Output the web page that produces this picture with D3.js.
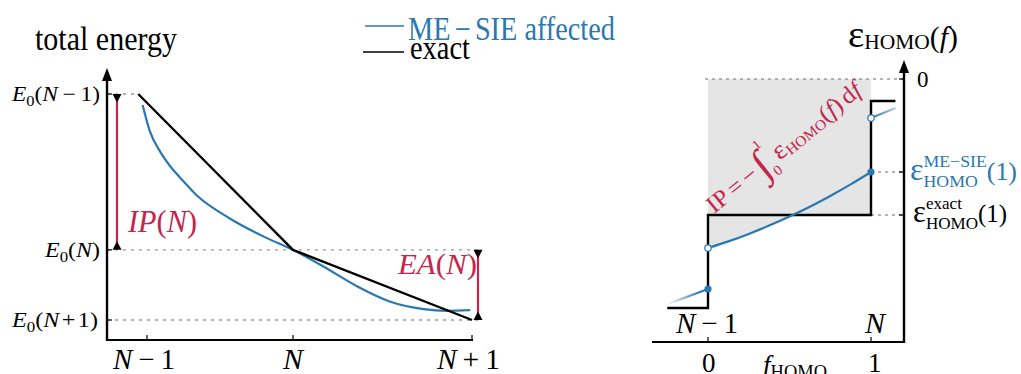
<!DOCTYPE html>
<html>
<head>
<meta charset="utf-8">
<script src="https://cdn.jsdelivr.net/npm/d3@7/dist/d3.min.js"></script>
<style>
  html, body { margin: 0; padding: 0; background: #fff; }
  svg { display: block; font-family: "Liberation Serif", "DejaVu Serif", serif; }
</style>
</head>
<body>
<svg id="fig" width="1021" height="374"></svg>
<script>
// ---------- Left panel: total energy vs. electron number ----------
// electron number axis: N−1 → −1, N → 0, N+1 → 1
const electronTicks = [-1, 0, 1];
const energyLevels = [1, 0, -0.45];          // E0(N−1), E0(N), E0(N+1)
const exactN = [-1.06, 0, 1];
const exactE = [1, 0, -0.45];
const mesieN = [-1.03, -0.98, -0.91, -0.84, -0.77, -0.66, -0.43, -0.2, 0, 0.17, 0.36, 0.54, 0.73, 0.86, 0.99];
const mesieE = [0.93, 0.76, 0.63, 0.535, 0.46, 0.35, 0.2, 0.085, 0, -0.107, -0.235, -0.331, -0.38, -0.391, -0.387];

// ---------- Right panel: HOMO eigenvalue vs. fractional occupation ----------
const fTicks = [0, 1];
const fTickLabels = ["0", "1"];
const exactStepF = [-0.25, 0, 0, 1, 1, 1.15];
const exactStepEps = [-1.684, -1.684, -1, -1, -0.162, -0.162];
const mesieLowF = [-0.25, -0.125, 0];
const mesieLowEps = [-1.654, -1.6, -1.544];
const mesieMidF = [0, 0.125, 0.25, 0.375, 0.5, 0.625, 0.75, 0.875, 1];
const mesieMidEps = [-1.243, -1.194, -1.139, -1.078, -1.011, -0.939, -0.86, -0.775, -0.684];
const mesieHighF = [1, 1.15];
const mesieHighEps = [-0.287, -0.213];
const epsMarked = [0, -0.684, -1];            // 0, ε^ME−SIE(1), ε^exact(1)

const BLUE = "#2a78b0", RED = "#c3264b", GRID = "#9a9a9a";
const svg = d3.select("#fig");

// rich text: a row of runs (italic, sub/superscript, stacked scripts), fitted to a width
function rich(parent, segs, o) {
  const outer = parent.append("g");
  const g = outer.append("g");
  let x = 0;
  const put = (s, px) => {
    const t = g.append("text")
      .attr("x", px)
      .attr("y", (s.dy || 0) * o.size)
      .attr("font-size", o.size * (s.sz || 1))
      .attr("font-style", s.it ? "italic" : "normal")
      .attr("fill", s.color || o.color || "#000")
      .text(s.t);
    return t.node().getComputedTextLength();
  };
  segs.forEach(s => {
    if (s.gap !== undefined) x += s.gap * o.size;
    else if (s.stack) { let w = 0; s.stack.forEach(p => { w = Math.max(w, put(p, x)); }); x += w; }
    else x += put(s, x);
  });
  const sx = o.width ? o.width / x : 1;
  let tf = `translate(${o.x},${o.y})`;
  if (o.rotate) tf += ` rotate(${o.rotate})`;
  tf += ` scale(${sx},1)`;
  outer.attr("transform", tf);
  return outer;
}
const sub = (t, extra) => Object.assign({ t, sz: 0.7, dy: 0.25 }, extra || {});

// ================= LEFT PANEL =================
const xL = d3.scaleLinear().domain([-1, 0, 1]).range([147, 293, 472]);
const yL = d3.scaleLinear().domain([-0.45, 1]).range([320, 94]);
const axL = { x0: 107, y0: 340, xEnd: 473, top: 68 };
const L = svg.append("g");

// dotted reference levels
const levelEnds = [xL(exactN[0]), 480, 480];
L.selectAll("line.lvl").data(energyLevels).join("line")
  .attr("x1", axL.x0).attr("x2", (d, i) => levelEnds[i])
  .attr("y1", d => yL(d)).attr("y2", d => yL(d))
  .attr("stroke", GRID).attr("stroke-width", 1.3).attr("stroke-dasharray", "3,5");

// curves
L.append("path").datum(d3.zip(mesieN, mesieE))
  .attr("d", d3.line().x(d => xL(d[0])).y(d => yL(d[1])).curve(d3.curveMonotoneX))
  .attr("fill", "none").attr("stroke", BLUE).attr("stroke-width", 2.2);
L.append("path").datum(d3.zip(exactN, exactE))
  .attr("d", d3.line().x(d => xL(d[0])).y(d => yL(d[1])))
  .attr("fill", "none").attr("stroke", "#000").attr("stroke-width", 2.4);

// IP and EA bars
function gapBar(x, eTop, eBot) {
  const yt = yL(eTop), yb = yL(eBot);
  L.append("line").attr("x1", x).attr("x2", x).attr("y1", yt + 4).attr("y2", yb - 4)
    .attr("stroke", RED).attr("stroke-width", 2.2);
  L.append("path").attr("d", `M${x - 4.5},${yt}L${x + 4.5},${yt}L${x},${yt + 8.5}Z`).attr("fill", "#000");
  L.append("path").attr("d", `M${x - 4.5},${yb}L${x + 4.5},${yb}L${x},${yb - 8.5}Z`).attr("fill", "#000");
}
gapBar(117, energyLevels[0], energyLevels[1]);
gapBar(478, energyLevels[1], energyLevels[2]);

// axes
L.append("line").attr("x1", axL.x0).attr("x2", axL.xEnd).attr("y1", axL.y0).attr("y2", axL.y0)
  .attr("stroke", "#000").attr("stroke-width", 2.2);
L.append("line").attr("x1", axL.x0).attr("x2", axL.x0).attr("y1", axL.y0 + 1).attr("y2", axL.top + 8)
  .attr("stroke", "#000").attr("stroke-width", 2.4);
L.append("path").attr("d", `M${axL.x0},${axL.top}L${axL.x0 + 5},${axL.top + 13}L${axL.x0 - 5},${axL.top + 13}Z`).attr("fill", "#000");
L.selectAll("line.xt").data(electronTicks).join("line")
  .attr("x1", d => xL(d)).attr("x2", d => xL(d)).attr("y1", axL.y0).attr("y2", axL.y0 - 5)
  .attr("stroke", "#000").attr("stroke-width", 1.2);
L.selectAll("line.yt").data(energyLevels).join("line")
  .attr("x1", axL.x0).attr("x2", axL.x0 + 5).attr("y1", d => yL(d)).attr("y2", d => yL(d))
  .attr("stroke", "#000").attr("stroke-width", 1.2);

// energy level labels
const eLabelRuns = [
  [{ t: "E", it: true }, sub("0"), { t: "(" }, { t: "N", it: true }, { gap: 0.2 }, { t: "−" }, { gap: 0.2 }, { t: "1" }, { t: ")" }],
  [{ t: "E", it: true }, sub("0"), { t: "(" }, { t: "N", it: true }, { t: ")" }],
  [{ t: "E", it: true }, sub("0"), { t: "(" }, { t: "N", it: true }, { gap: 0.1 }, { t: "+" }, { gap: 0.1 }, { t: "1" }, { t: ")" }]
];
const eLabelBox = [[12, 88], [45, 55], [12, 86]];
energyLevels.forEach((v, i) => rich(L, eLabelRuns[i], { x: eLabelBox[i][0], y: yL(v) + 7, size: 21, width: eLabelBox[i][1] }));

// electron number labels
const nLabelRuns = [
  [{ t: "N", it: true }, { gap: 0.2 }, { t: "−" }, { gap: 0.2 }, { t: "1" }],
  [{ t: "N", it: true }],
  [{ t: "N", it: true }, { gap: 0.2 }, { t: "+" }, { gap: 0.2 }, { t: "1" }]
];
const nLabelBox = [[113, 62], [283, 20], [437, 63]];
electronTicks.forEach((d, i) => rich(L, nLabelRuns[i], { x: nLabelBox[i][0], y: 369, size: 29, width: nLabelBox[i][1] }));

// gap labels
rich(L, [{ t: "IP", it: true }, { t: "(" }, { t: "N", it: true }, { t: ")" }], { x: 128, y: 232, size: 31, width: 69, color: RED });
rich(L, [{ t: "EA", it: true }, { t: "(" }, { t: "N", it: true }, { t: ")" }], { x: 398, y: 274, size: 30, width: 79, color: RED });

// title and legend
rich(L, [{ t: "total energy" }], { x: 35, y: 50, size: 34, width: 142 });
svg.append("line").attr("x1", 365).attr("x2", 404).attr("y1", 26).attr("y2", 26).attr("stroke", BLUE).attr("stroke-width", 1.6);
svg.append("line").attr("x1", 363).attr("x2", 404).attr("y1", 52).attr("y2", 52).attr("stroke", "#000").attr("stroke-width", 1.6);
rich(svg, [{ t: "ME" }, { gap: 0.15 }, { t: "−" }, { gap: 0.15 }, { t: "SIE affected" }], { x: 408, y: 39.5, size: 33, width: 207, color: BLUE });
rich(svg, [{ t: "exact" }], { x: 410, y: 58.5, size: 33, width: 60 });

// ================= RIGHT PANEL =================
const xR = d3.scaleLinear().domain([0, 1]).range([708, 871]);
const yR = d3.scaleLinear().domain([-1, 0]).range([215, 79]);
const axR = { x0: 652, y0: 342, xAxis: 904, top: 60 };
const R = svg.append("g");

const defs = svg.append("defs");
function fade(id, x1, x2, o1, o2) {
  const gr = defs.append("linearGradient").attr("id", id).attr("gradientUnits", "userSpaceOnUse")
    .attr("x1", x1).attr("x2", x2).attr("y1", 0).attr("y2", 0);
  gr.append("stop").attr("offset", 0).attr("stop-color", BLUE).attr("stop-opacity", o1);
  gr.append("stop").attr("offset", 1).attr("stop-color", BLUE).attr("stop-opacity", o2);
}
fade("fadeIn", xR(-0.25), xR(-0.05), 0, 1);
fade("fadeOut", xR(1), xR(1.15), 1, 0.35);

// shaded integral: from ε = 0 down to the lower of the two curves
R.append("path").datum(d3.zip(mesieMidF, mesieMidEps))
  .attr("d", d3.area().x(d => xR(d[0])).y0(yR(0)).y1(d => yR(Math.min(d[1], -1))))
  .attr("fill", "#e5e5e5");

// reference levels
R.append("line").attr("x1", xR(0) - 3).attr("x2", axR.xAxis).attr("y1", yR(epsMarked[0])).attr("y2", yR(epsMarked[0]))
  .attr("stroke", GRID).attr("stroke-width", 1.3).attr("stroke-dasharray", "3,4");
R.selectAll("line.lvl").data(epsMarked.slice(1)).join("line")
  .attr("x1", xR(1)).attr("x2", axR.xAxis).attr("y1", d => yR(d)).attr("y2", d => yR(d))
  .attr("stroke", GRID).attr("stroke-width", 1.3).attr("stroke-dasharray", "3,4");

// curves
const lineR = d3.line().x(d => xR(d[0])).y(d => yR(d[1]));
R.append("path").datum(d3.zip(exactStepF, exactStepEps)).attr("d", lineR)
  .attr("fill", "none").attr("stroke", "#000").attr("stroke-width", 2.4);
R.append("path").datum(d3.zip(mesieLowF, mesieLowEps)).attr("d", lineR.curve(d3.curveCatmullRom))
  .attr("fill", "none").attr("stroke", "url(#fadeIn)").attr("stroke-width", 2.2);
R.append("path").datum(d3.zip(mesieMidF, mesieMidEps)).attr("d", lineR.curve(d3.curveCatmullRom))
  .attr("fill", "none").attr("stroke", BLUE).attr("stroke-width", 2.2);
R.append("path").datum(d3.zip(mesieHighF, mesieHighEps)).attr("d", lineR.curve(d3.curveLinear))
  .attr("fill", "none").attr("stroke", "url(#fadeOut)").attr("stroke-width", 2.2);

// end points of the ME−SIE branches
const filledPts = [[mesieLowF[2], mesieLowEps[2]], [mesieMidF[8], mesieMidEps[8]]];
const openPts = [[mesieMidF[0], mesieMidEps[0]], [mesieHighF[0], mesieHighEps[0]]];
R.selectAll("circle.f").data(filledPts).join("circle")
  .attr("cx", d => xR(d[0])).attr("cy", d => yR(d[1])).attr("r", 3.6).attr("fill", BLUE);
R.selectAll("circle.o").data(openPts).join("circle")
  .attr("cx", d => xR(d[0])).attr("cy", d => yR(d[1])).attr("r", 3.2)
  .attr("fill", "#fff").attr("stroke", BLUE).attr("stroke-width", 1.2);

// axes
R.append("line").attr("x1", axR.x0).attr("x2", axR.xAxis + 1).attr("y1", axR.y0).attr("y2", axR.y0)
  .attr("stroke", "#000").attr("stroke-width", 2.2);
R.append("line").attr("x1", axR.xAxis).attr("x2", axR.xAxis).attr("y1", axR.y0 + 1).attr("y2", axR.top + 8)
  .attr("stroke", "#000").attr("stroke-width", 2.4);
R.append("path").attr("d", `M${axR.xAxis},${axR.top}L${axR.xAxis + 5},${axR.top + 13}L${axR.xAxis - 5},${axR.top + 13}Z`).attr("fill", "#000");
R.selectAll("line.xt").data(fTicks).join("line")
  .attr("x1", d => xR(d)).attr("x2", d => xR(d)).attr("y1", axR.y0).attr("y2", axR.y0 - 5)
  .attr("stroke", "#000").attr("stroke-width", 1.2);
R.selectAll("line.yt").data(epsMarked).join("line")
  .attr("x1", axR.xAxis - 5).attr("x2", axR.xAxis).attr("y1", d => yR(d)).attr("y2", d => yR(d))
  .attr("stroke", "#000").attr("stroke-width", 1.2);

// integral label along the shaded area
rich(R, [
  { t: "IP" }, { gap: 0.15 }, { t: "=" }, { gap: 0.15 }, { t: "−" }, { gap: 0.1 },
  { t: "∫", sz: 1.7, dy: 0.2 },
  { stack: [{ t: "1", sz: 0.55, dy: -0.95 }, { t: "0", sz: 0.6, dy: 0.45 }] },
  { gap: 0.15 }, { t: "ε", sz: 1.1 }, { t: "HOMO", sz: 0.62, dy: 0.12 }, { t: "(" }, { t: "f", it: true }, { t: ")" },
  { gap: 0.15 }, { t: "d" }, { t: "f", it: true }
], { x: 714, y: 214, size: 24, width: 192, rotate: -39, color: RED });

// f labels
fTicks.forEach((d, i) => rich(R, [{ t: fTickLabels[i] }], { x: xR(d) - 6 + (i ? 3 : 0), y: 372, size: 27 }));
rich(R, [{ t: "f", it: true }, { t: "HOMO", sz: 0.68, dy: 0.15 }], { x: 763, y: 374, size: 27, width: 64 });
rich(R, [{ t: "N", it: true }, { gap: 0.2 }, { t: "−" }, { gap: 0.2 }, { t: "1" }], { x: 676, y: 333, size: 29, width: 62 });
rich(R, [{ t: "N", it: true }], { x: 865, y: 333, size: 29, width: 20 });

// ε labels
rich(R, [{ t: "0" }], { x: 917, y: 87, size: 23 });
rich(R, [
  { t: "ε", sz: 1.3 },
  { stack: [{ t: "ME−SIE", sz: 0.72, dy: -0.55 }, { t: "HOMO", sz: 0.72, dy: 0.3 }] },
  { t: "(1)", sz: 1.05 }
], { x: 910, y: 180, size: 24, width: 107, color: BLUE });
rich(R, [
  { t: "ε", sz: 1.3 },
  { stack: [{ t: "exact", sz: 0.72, dy: -0.55 }, { t: "HOMO", sz: 0.72, dy: 0.3 }] },
  { t: "(1)", sz: 1.05 }
], { x: 913, y: 222, size: 24, width: 94 });

// title
rich(R, [{ t: "ε", sz: 1.3 }, { t: "HOMO", sz: 0.72, dy: 0.08 }, { t: "(" }, { t: "f", it: true }, { t: ")" }],
  { x: 848, y: 47, size: 29, width: 110 });
</script>
</body>
</html>
